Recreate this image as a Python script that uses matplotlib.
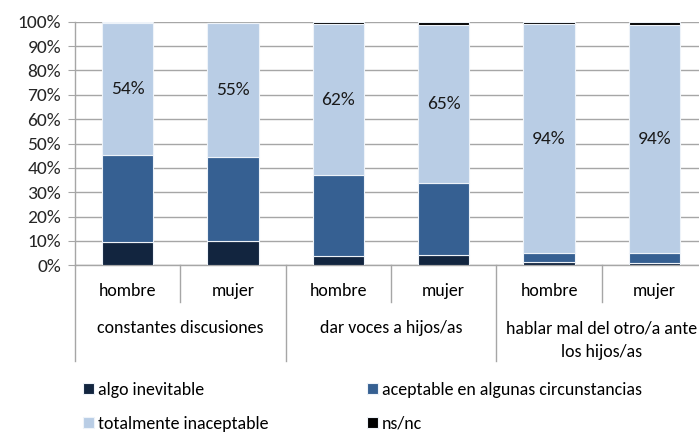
import matplotlib
matplotlib.use("Agg")
import matplotlib.pyplot as plt
import matplotlib.transforms as mtransforms
import numpy as np

# ---- data ----
groups = ["constantes discusiones", "dar voces a hijos/as", "hablar mal del otro/a ante\nlos hijos/as"]
sexes = ["hombre", "mujer"]
algo_inevitable = [9.4, 10.1, 3.8, 4.2, 1.2, 1.0]
aceptable = [35.9, 34.3, 33.2, 29.6, 3.7, 3.9]
totalmente = [54, 55, 62, 65, 94, 93.6]
nsnc = [0.7, 0.0, 1.0, 1.0, 1.1, 1.5]
series_names = ["algo inevitable", "aceptable en algunas circunstancias",
                "totalmente inaceptable", "ns/nc"]
yticks = [0, 10, 20, 30, 40, 50, 60, 70, 80, 90, 100]

colors = ["#12253f", "#366092", "#b9cde5", "#000000"]

W, H = 699, 434
fig = plt.figure(figsize=(W / 100, H / 100), dpi=100)

def fy(px):
    return 1 - px / H

left_px, right_px, top_px, bot_px = 75, 707, 21.7, 265.3
ax = fig.add_axes([left_px / W, fy(bot_px), (right_px - left_px) / W, (bot_px - top_px) / H])

font = ["Carlito", "DejaVu Sans"]
txt_col = "#262626"
grid_col = "#a6a6a6"
num_size = 14
cat_size = 12.9

n = len(algo_inevitable)
x = np.arange(n) + 0.5
width = 0.49
series = [algo_inevitable, aceptable, totalmente, nsnc]
bottom = np.zeros(n)
handles = []
for vals, c, name in zip(series, colors, series_names):
    vals = np.array(vals, dtype=float)
    b = ax.bar(x, vals, width, bottom=bottom, color=c, edgecolor="#eef3f9",
               linewidth=0.8, label=name, zorder=3)
    handles.append(b)
    bottom = bottom + vals

# data labels for totalmente inaceptable
base = np.array(algo_inevitable) + np.array(aceptable)
for xi, b0, v in zip(x, base, totalmente):
    ax.text(xi, b0 + v / 2, f"{round(v):.0f}%", ha="center", va="center",
            fontsize=num_size, family=font, color="#1a1a1a", zorder=4)

ax.set_xlim(0, 6)
ax.set_ylim(0, 100)
ax.set_yticks(yticks)
ax.set_yticklabels([f"{t}%" for t in yticks], family=font, fontsize=num_size, color=txt_col)
ax.yaxis.grid(True, color=grid_col, linewidth=1.0, zorder=0)
ax.set_axisbelow(True)
ax.tick_params(axis="y", length=5, width=0.8, color=grid_col, pad=5)
ax.set_xticks([])
for s in ["top", "right"]:
    ax.spines[s].set_visible(False)
ax.spines["left"].set_color(grid_col)
ax.spines["bottom"].set_color(grid_col)
ax.spines["left"].set_linewidth(1.0)
ax.spines["bottom"].set_linewidth(1.0)

# category axis (multi-level)
trans = mtransforms.blended_transform_factory(ax.transData, fig.transFigure)
for xv in [0, 2, 4, 6]:
    ax.plot([xv, xv], [fy(bot_px), fy(361)], transform=trans, color=grid_col,
            linewidth=1.0, clip_on=False)
for xv in [1, 3, 5]:
    ax.plot([xv, xv], [fy(bot_px), fy(302)], transform=trans, color=grid_col,
            linewidth=1.0, clip_on=False)

for i, xi in enumerate(x):
    ax.text(xi, fy(296), sexes[i % 2], transform=trans, ha="center", va="baseline",
            fontsize=cat_size, family=font, color="black")
for g, name in enumerate(groups):
    for k, line in enumerate(name.split("\n")):
        ax.text(2 * g + 1, fy(333 + 24 * k), line, transform=trans, ha="center",
                va="baseline", fontsize=cat_size, family=font, color="black")

# legend
order = [0, 2, 1, 3]
leg = fig.legend([handles[i] for i in order], [series_names[i] for i in order],
                 ncol=2, loc="upper left", bbox_to_anchor=(83 / W, fy(382)),
                 frameon=False, prop={"family": font, "size": cat_size},
                 handlelength=0.62, handleheight=0.56, handletextpad=0.22,
                 columnspacing=5.5, labelspacing=1.0, borderaxespad=0, borderpad=0)
for t in leg.get_texts():
    t.set_color("black")

fig.savefig("out.png", dpi=100)
